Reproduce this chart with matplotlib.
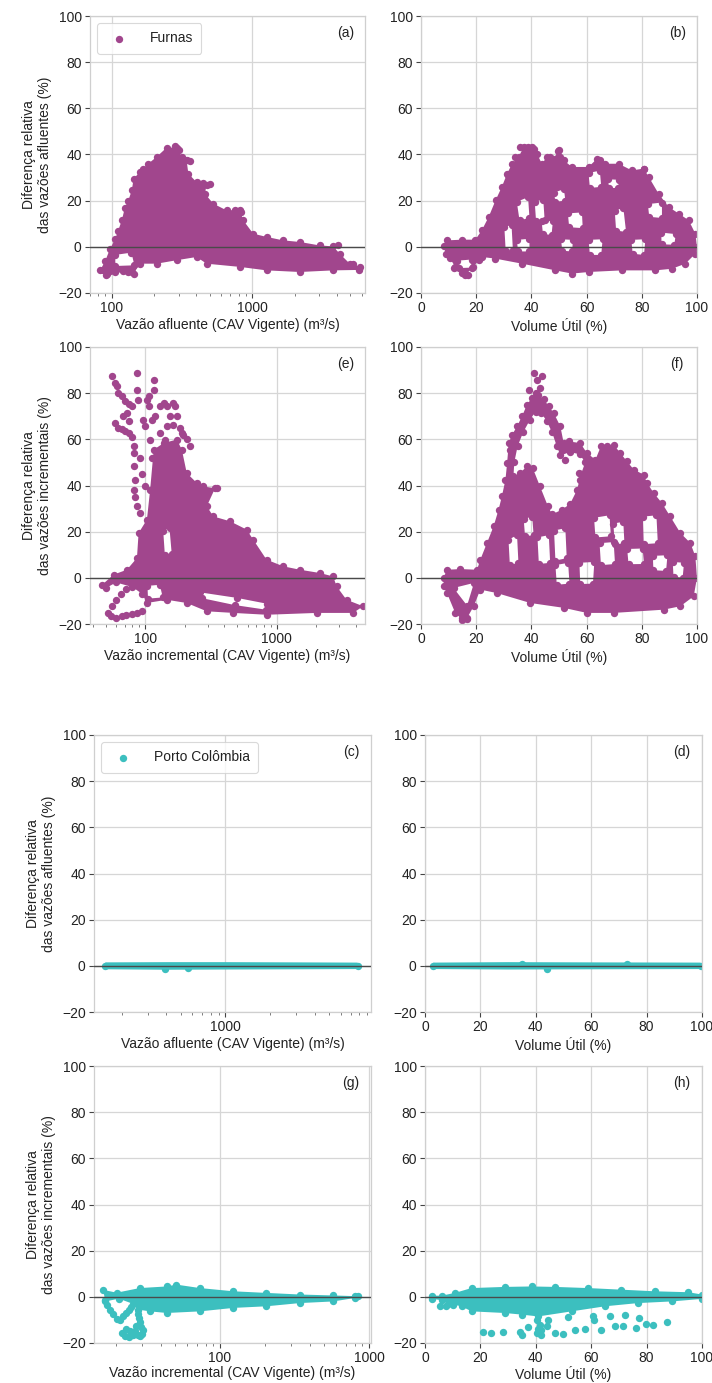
import numpy as np
import matplotlib
matplotlib.use("Agg")
import matplotlib.pyplot as plt
from matplotlib.path import Path
from matplotlib.patches import PathPatch
from matplotlib.ticker import FixedLocator, LogLocator, NullFormatter, FuncFormatter

plt.rcParams['font.family'] = ['Liberation Sans', 'DejaVu Sans']

PURPLE = '#a1468d'
TEAL = '#3cbfbf'

# ---- Furnas : vazao afluente (a) -------------------------------------------
a_env = [(83, -10), (90, -6), (97, -1), (106, 3.5), (111, 7), (118, 11.5), (124, 17),
         (131, 20), (139, 24.5), (143, 29.5), (159, 32.5), (182, 36), (209, 39), (246, 43),
         (290, 43), (315, 39), (341, 37.5), (351, 31.7), (402, 28), (473, 27), (461, 23),
         (528, 18.7), (657, 15.8), (817, 16), (863, 11.5), (1016, 5.7), (1265, 4.3),
         (1660, 2.8), (2183, 2.1), (3027, 0.6), (3767, 0.2), (4200, -3), (4945, -7.3),
         (5820, -8.7), (5800, -10), (3767, -10.2), (2183, -10.9), (1265, -10.2), (817, -8.7),
         (473, -7.3), (402, -4.4), (290, -5.8), (209, -7.3), (159, -7.3), (143, -11.6),
         (106, -11), (91, -12)]
a_holes = [[(106, -3.5), (138, -2.5), (145, -8.0), (106, -8.3)]]
a_pts = [(87, -10.2), (92, -11.9), (97, -10.5), (168, 33.9), (752, 15.8), (837, 15.1),
         (448, 27.7), (500, 27.4), (4800, -8), (5200, -7.3), (4070, 0.6), (120, -10.5),
         (130, -10.8), (140, -11), (260, 41), (280, 43.5), (300, 42), (330, 37.5), (360, 37)]

# ---- Furnas : volume util (b) ----------------------------------------------
b_env = [(8.2, 0.2), (9.4, 2.8), (14.9, 3.1), (19.7, 3.1), (22, 7.1), (24.5, 12.9), (27, 20.1),
         (29.3, 26), (31.2, 31.7), (33, 36), (35.4, 39), (37.2, 43.3), (40.2, 43.3), (42, 40.4),
         (43.8, 36), (45.7, 39), (48, 38.2), (49.9, 41.8), (51.7, 37.5), (54.7, 34.6),
         (60.7, 34.6), (63.8, 38.2), (66.8, 36), (71.6, 36), (76.4, 33.1), (80.7, 33.9),
         (82.5, 30.3), (86.1, 23), (89.7, 17.3), (93.4, 14.4), (97, 11.5), (99.4, 5.7),
         (100, 0), (99.4, -3), (95.8, -7.3), (90.9, -9.5), (84.9, -10.2), (72.8, -10.2),
         (60.7, -10.9), (54.7, -11.6), (48.7, -10.2), (36.6, -7.3), (26.9, -5.1), (22.1, -4.4),
         (20.9, -5.8), (19, -8.7), (16, -12.3), (12.4, -8.7), (10.5, -5), (9, -3)]
b_holes = [[(30.2, 8.5), (32.8, 9.5), (33.3, -1.5), (30.7, -2)],
           [(34.7, 19.5), (38.8, 21.5), (39.3, 12.5), (35.7, 11.5)],
           [(34.7, 3), (39.3, 3.5), (39.3, -2), (35.2, -2)],
           [(41.2, 19.5), (44.3, 20.5), (44.8, 11.5), (41.7, 11)],
           [(48.2, 23.5), (51.8, 25), (52.3, 20), (48.7, 19.5)],
           [(43.7, 11), (47.8, 11.3), (47.3, 5.2), (44.2, 5.5)],
           [(60.7, 32), (64.8, 33), (65.3, 26), (61.2, 25.5)],
           [(60.7, 3), (65.8, 3.3), (65.3, -3.5), (61.2, -3.5)],
           [(70.2, 15.5), (73.3, 17), (74.3, 6.5), (70.7, 7)],
           [(76.2, 3), (81.3, 3.3), (80.8, -3.5), (76.7, -3)],
           [(82.2, 18.5), (87.3, 19.2), (87.3, 12.5), (82.7, 13)],
           [(53.2, 14.5), (58.3, 14.9), (58.6, 8.1), (53.7, 8.5)],
           [(50.7, 3.3), (55, 3), (54.8, -2), (51.2, -1.7)],
           [(87, 6.2), (92.3, 5.5), (91.8, 0.9), (87.2, 1.1)],
           [(67.7, 29.3), (71.9, 29), (71.3, 25.5), (68.2, 25.5)],
           [(13.2, -6), (18.3, -5.5), (18.3, -9), (13.7, -9.2)]]
b_pts = [(34.2, 38.9), (36, 43.3), (38.8, 43.3), (40.8, 42.5), (49.6, 41.5), (50.5, 38.9),
         (46.6, 38.9), (65, 37.8), (80.7, 33.9), (31.4, 31), (12, -9), (15, -11.5), (17, -12)]

# ---- Furnas : vazao incremental (e) ----------------------------------------
e_env = [(47, -3), (57.5, 1.4), (72.5, 3.5), (86.5, 8.6), (89, 19.4), (103, 25.2), (109, 38.2),
         (116, 55.5), (138, 58.4), (174, 59.9), (190, 55.5), (207, 45.4), (247, 41.1),
         (277, 39.6), (340, 38.8), (294, 31), (330, 26.6), (442, 24.5), (591, 20.9),
         (664, 16.5), (837, 7.9), (1121, 5), (1505, 3.5), (2132, 2.1), (2690, 0.6),
         (2860, -3.7), (3400, -9.5), (4550, -12.3), (3820, -15.2), (2014, -15.2), (839, -16),
         (469, -15.2), (294, -14.5), (207, -10.9), (146, -9.5), (103, -10.9), (95, -7),
         (80, -4), (60, -2), (50, -4.5)]
e_holes = [[(137, 20.5), (153, 21.5), (159, 10.5), (141, 10)],
           [(262, -6.3), (500, -8.7), (840, -11.2), (830, -13.8), (480, -11.8), (270, -8.8)],
           [(104, -3.5), (129, -3), (136, -8.5), (105, -9)]]
e_pts = [(55.5, 87.3), (58.5, 84.5), (61, 83), (62.5, 80.1), (66, 78.6), (70, 76.5),
         (74.8, 75.5), (79, 74.3), (72.6, 71.4), (59, 67), (62.5, 65), (66, 64.5), (70, 63.5),
         (75, 62.7), (79, 61), (81.5, 57), (81.5, 54.1), (81.5, 48.3), (84, 42.5), (81.5, 38),
         (84, 35), (86.5, 31), (91.6, 28.1), (86.5, 88.7), (86.5, 81.5), (88, 77), (97, 68.5),
         (100, 65.6), (103, 77.2), (106, 78.6), (106, 74.3), (112, 68.5), (116, 85.8),
         (117, 81.5), (119, 70), (130, 74.3), (138, 75.7), (146, 74.3), (155, 70), (164, 75.7),
         (169, 74.3), (174, 70), (185, 65), (190, 62.7), (164, 66), (146, 65.6), (142, 59.9),
         (130, 62.7), (123, 55), (112, 52), (109, 59.9), (75, 68), (68, 70), (95, 45), (92, 52),
         (100, 40), (195, 62), (207, 60), (220, 57), (350, 39), (52, -15.2), (55, -16.5),
         (60, -17.4), (66, -16.5), (72, -16), (79, -15.5), (86, -15.2), (95, -14.5),
         (56, -12), (60, -9.5), (65, -7), (72, -5), (80, -3.5), (88, -2)]

# ---- Furnas : volume util, incremental (f) ---------------------------------
f_env = [(8.2, 0), (9.4, 3.5), (14.3, 3.8), (20.3, 3.5), (21.5, 7.9), (23.9, 15.1), (26.3, 22.3),
         (28.1, 29.5), (29.3, 35.3), (30.6, 42.5), (31.2, 49.7), (31.8, 58.4), (33, 62),
         (34.8, 65.6), (36.6, 70), (38.4, 75), (40.2, 78), (42.5, 79), (44.4, 77.5),
         (46.3, 74.3), (48.1, 71.4), (50.5, 65.6), (51.7, 58.4), (53.5, 59.1), (57.7, 58.4),
         (60.1, 54.1), (63.2, 51.2), (65.2, 57), (67.4, 57), (69.8, 57.7), (72.2, 54.1),
         (74.6, 50.5), (77.1, 46.9), (80.7, 44.7), (81.9, 41.1), (84.3, 36.8), (87.3, 32.4),
         (90.3, 26.6), (94, 19.4), (97.6, 15.1), (99.4, 9.3), (100, 0), (98.8, -8), (94, -12.3),
         (87.9, -13.8), (69.8, -15.2), (60.1, -15.2), (51.7, -13), (39.6, -10.9), (27.5, -6.6),
         (21.5, -5.1), (19.1, -12.3), (16.7, -17.4), (14.9, -18.1), (12.4, -15.2), (9.4, -6.6),
         (8.2, -3.7)]
f_holes = [[(33.5, 44), (33.8, 50), (35, 57), (37, 63), (39.5, 68.5), (41.5, 72), (43.5, 71.5),
            (45.5, 68), (47.5, 63), (49.2, 57), (50.5, 53), (54, 54.5), (57.5, 53.5),
            (59.5, 50), (58, 45), (56.5, 38), (54, 32), (51, 29.5), (47.5, 27.5), (46, 31),
            (43, 40), (40.5, 47.5), (38.5, 48.5), (36, 45.5)],
           [(31.7, 16.5), (34.8, 18.5), (35.3, 6.5), (32.2, 5.5)],
           [(42.2, 17.5), (46.3, 18.5), (46.8, 6.5), (42.7, 6)],
           [(48.2, 20.5), (52.3, 21.5), (52.8, 8.5), (48.7, 7.5)],
           [(62.7, 26), (68.3, 27.1), (68.8, 18), (63.2, 17.5)],
           [(69.7, 23.5), (73.3, 24.3), (73.7, 15), (70.2, 14.5)],
           [(74.7, 12.5), (80.3, 12.7), (80.8, 6), (75.2, 5.9)],
           [(84, 9.5), (89.3, 9.8), (88.8, 3), (84.2, 3.3)],
           [(57.4, 6.5), (62.8, 6.9), (62.3, -2.5), (57.7, -2.7)],
           [(80.4, 26.5), (85.3, 27.1), (85.8, 15), (80.7, 14.6)],
           [(48.7, 5.5), (53.3, 6.5), (53.8, -2.5), (49.2, -3)],
           [(11.8, -4.4), (19.2, -2.2), (16.7, -12)],
           [(64.7, 15), (69.8, 15.5), (70.3, 6), (65.2, 5.5)],
           [(91.2, 6.9), (95.3, 6.5), (94.8, 0.1), (91.5, 0.5)],
           [(37.2, 25.5), (40.3, 26.5), (40.8, 18.5), (37.7, 18)]]
f_pts = [(40.8, 88.7), (42, 85.8), (43.8, 87.3), (43.2, 82.2), (39, 81.5), (41.5, 80),
         (33.6, 61.3), (32.4, 55.5), (31.8, 49.7), (52.3, 51.2), (57.1, 45.4), (57.7, 42.5),
         (66.2, 46.9), (67.4, 44), (15, -17.5), (16.5, -18)]

# ---- Porto Colombia : vazao afluente (c) -----------------------------------
c_env = [(155, 1.5), (400, 1.6), (1000, 1.6), (3000, 1.5), (7800, 1.4), (7800, -1.4),
         (3000, -1.5), (1000, -1.6), (400, -1.7), (155, -1.5)]
c_pts = [(155, 0), (390, -1.2), (560, -1.0), (7800, 0)]

# ---- Porto Colombia : volume util (d) --------------------------------------
d_env = [(3, 1.4), (30, 1.6), (60, 1.5), (99.5, 1.4), (99.5, -1.4), (60, -1.5), (30, -1.6),
         (3, -1.4)]
d_pts = [(3, 0), (35, 0.8), (44, -1.3), (73, 0.8), (99.5, 0)]

# ---- Porto Colombia : vazao incremental (g) --------------------------------
g_env = [(16.5, 3), (20.3, 1.8), (29, 3.8), (44, 4.5), (51, 5.3), (73.5, 3.8), (123, 2.4),
         (205, 1.7), (344, 1), (575, 0.6), (800, 0.3), (800, -0.5), (575, -2), (344, -2.7),
         (205, -4.1), (123, -4.8), (73.5, -6.3), (44, -7), (34, -6.3), (28, -5.5), (26, -3),
         (21, -0.8), (17, -2)]
g_pts = [(17, -1.5), (17.5, -3.5), (18.3, -5.5), (19.3, -7.5), (20.5, -9.5), (21.5, -10),
         (22.5, -8.5), (23.5, -7), (24.5, -5.5), (25.5, -4.5), (22, -15.5), (23, -16.8),
         (24.5, -17.3), (26, -16.5), (27, -15), (28, -16.5), (29, -17), (30, -16), (29.5, -13),
         (29, -11), (28.5, -9), (28, -7.5), (25, -15), (23.5, -14), (27.5, -12.5),
         (30.5, -14.5), (843, 0.2)]

# ---- Porto Colombia : volume util, incremental (h) -------------------------
h_env = [(2.4, 0.5), (6, 0.5), (10.8, 1.7), (16.8, 3.8), (28.8, 4.3), (38.5, 4.5), (46.9, 4.3),
         (58.9, 3.8), (70.9, 3.1), (82.9, 2.4), (95, 2), (100, 1), (100, -0.9), (89, -2),
         (77, -2.7), (65, -4.1), (52.9, -6.3), (40.9, -8.5), (34.9, -7.7), (28.8, -7),
         (16.8, -6.3), (13.2, -4.1), (8.4, -3), (6, -1.5), (2.4, -0.8)]
h_pts = [(5.5, -4.1), (7.6, -3.8), (10, -3.5), (21, -15.2), (24, -15.7), (28.2, -15.2),
         (34.3, -15.2), (34.9, -16.4), (37.3, -13.1), (40.3, -15.7), (40.9, -13.9), (42, -16.4),
         (43.9, -12.8), (46.9, -15.7), (49.9, -16), (51.7, -8.7), (54.1, -14.2), (57.7, -13.9),
         (60.7, -8.5), (63.7, -14.2), (66.7, -8.2), (68.5, -12.8), (71.5, -12.5), (72.1, -7.7),
         (76.3, -13.5), (77.4, -9.2), (79.9, -11.6), (82.3, -12.1), (87.4, -10.9), (40.3, -9.9),
         (41.5, -12.1), (44.5, -9.9), (61, -9.9), (42, -14.2)]

YLAB_AFL = "Diferença relativa\ndas vazões afluentes (%)"
YLAB_INC = "Diferença relativa\ndas vazões incrementais (%)"
XLAB_AFL = "Vazão afluente (CAV Vigente) (m³/s)"
XLAB_INC = "Vazão incremental (CAV Vigente) (m³/s)"
XLAB_VOL = "Volume Útil (%)"

W, H = 712, 1383
MS = 28


def box(l, t, r, b):
    return [l / W, 1 - b / H, (r - l) / W, (b - t) / H]


def signed_area(p):
    x, y = p[:, 0], p[:, 1]
    return 0.5 * np.sum(x * np.roll(y, -1) - np.roll(x, -1) * y)


def draw_blob(ax, env, holes, pts, color, label=None, rim=True):
    verts, codes = [], []
    for k, poly in enumerate([env] + holes):
        p = np.asarray(poly, float)
        a = signed_area(ax.transData.transform(p))
        if (a > 0) != (k == 0):
            p = p[::-1]
        verts += list(p) + [p[0]]
        codes += [Path.MOVETO] + [Path.LINETO] * (len(p) - 1) + [Path.CLOSEPOLY]
    ax.add_patch(PathPatch(Path(verts, codes), facecolor=color, edgecolor='none', zorder=2))
    if rim:
        r = np.asarray(env + [v for h in holes for v in h], float)
        ax.scatter(r[:, 0], r[:, 1], s=MS, color=color, lw=0, zorder=2)
    q = np.asarray(pts, float)
    ax.scatter(q[:, 0], q[:, 1], s=MS, color=color, lw=0, zorder=2, label=label)


def style(ax, logx, xlim, tag, xlabel, ylabel=None, xpad=1):
    ax.set_ylim(-20, 100)
    ax.set_yticks([-20, 0, 20, 40, 60, 80, 100])
    if logx:
        ax.set_xscale('log')
        ax.xaxis.set_major_locator(FixedLocator([10, 100, 1000, 10000]))
        ax.xaxis.set_minor_locator(LogLocator(base=10, subs=np.arange(2, 10)))
        ax.xaxis.set_minor_formatter(NullFormatter())
        ax.xaxis.set_major_formatter(FuncFormatter(lambda v, _: f"{v:g}"))
    else:
        ax.set_xticks([0, 20, 40, 60, 80, 100])
    ax.set_xlim(*xlim)
    ax.grid(True, which='major', color='#d6d6d6', lw=0.9, zorder=0)
    ax.set_axisbelow(True)
    for s in ax.spines.values():
        s.set_color('#cfcfcf')
        s.set_linewidth(0.9)
    ax.tick_params(which='major', length=3.5, width=0.8, color='#444444',
                   labelsize=10, labelcolor='#222222', pad=2.5)
    ax.tick_params(which='minor', length=2.2, width=0.6, color='#666666')
    ax.axhline(0, color='#4a4a4a', lw=1.0, zorder=3)
    ax.text(0.928, 0.94, tag, transform=ax.transAxes, ha='center', va='center',
            fontsize=10, color='#222222')
    ax.set_xlabel(xlabel, fontsize=10, color='#222222', labelpad=xpad)
    if ylabel:
        ax.set_ylabel(ylabel, fontsize=10, color='#222222', labelpad=4)


fig = plt.figure(figsize=(W / 100, H / 100), dpi=100)

panels = [
    # box, logx, xlim, tag, xlabel, ylabel, env, holes, pts, color, legend, rim, xpad
    ((90, 16, 365, 293), True, (70, 6350), '(a)', XLAB_AFL, YLAB_AFL, a_env, a_holes, a_pts, PURPLE, 'Furnas', True, 2),
    ((421, 16, 697, 293), False, (0, 100), '(b)', XLAB_VOL, None, b_env, b_holes, b_pts, PURPLE, None, True, 2),
    ((90, 347, 365, 624), True, (38, 4700), '(e)', XLAB_INC, YLAB_INC, e_env, e_holes, e_pts, PURPLE, None, True, 2),
    ((421, 347, 697, 624), False, (0, 100), '(f)', XLAB_VOL, None, f_env, f_holes, f_pts, PURPLE, None, True, 2),
    ((94, 735, 371, 1012), True, (130, 9600), '(c)', XLAB_AFL, YLAB_AFL, c_env, [], c_pts, TEAL, 'Porto Colômbia', False, 2),
    ((425, 735, 702, 1012), False, (0, 100), '(d)', XLAB_VOL, None, d_env, [], d_pts, TEAL, None, False, 2),
    ((94, 1066, 371, 1343), True, (14.3, 1030), '(g)', XLAB_INC, YLAB_INC, g_env, [], g_pts, TEAL, None, True, 0.5),
    ((425, 1066, 702, 1343), False, (0, 100), '(h)', XLAB_VOL, None, h_env, [], h_pts, TEAL, None, True, 0.5),
]

for bx, logx, xlim, tag, xl, yl, env, holes, pts, col, leg, rim, xpad in panels:
    ax = fig.add_axes(box(*bx))
    style(ax, logx, xlim, tag, xl, yl, xpad)
    draw_blob(ax, env, holes, pts, col, label=leg, rim=rim)
    if leg:
        lg = ax.legend(loc='upper left', fontsize=10, frameon=True, handletextpad=1.2,
                       borderpad=0.6, scatterpoints=1)
        lg.get_frame().set_edgecolor('#d0d0d0')
        lg.get_frame().set_linewidth(0.8)
        for t in lg.get_texts():
            t.set_color('#222222')

fig.savefig('out.png', dpi=100)
